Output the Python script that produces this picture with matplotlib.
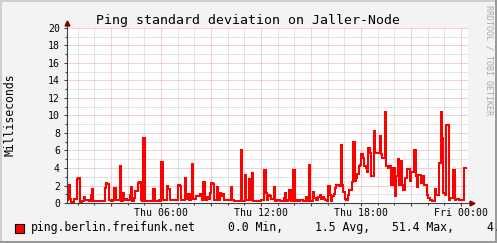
"""Ping standard deviation graph, RRDtool style."""

import matplotlib
matplotlib.use("Agg")
import matplotlib.pyplot as plt
import numpy as np
from matplotlib.lines import Line2D
from matplotlib.patches import Rectangle

W, H, DPI = 497, 243, 100
MONO = "DejaVu Sans Mono"

title = "Ping standard deviation on Jaller-Node"
ylabel = "Milliseconds"
series_name = "ping.berlin.freifunk.net"
watermark = "RRDTOOL / TOBI OETIKER"

# 5 minute samples, time in hours since Thu 00:00
start_hour = 0.36
step_hours = 5 / 60
stddev_ms = [
    0.3, 2.05, 0.5, 0.1, 0.1, 0.45, 0.45, 2.7, 2.85, 0.1, 0.1, 0.2,
    0.65, 0.3, 0.35, 0.35, 0.25, 0.9, 1.55, 0.2, 0.2, 0.2, 0.2, 0.25,
    0.25, 0.25, 0.25, 1.75, 2.25, 2.2, 0.3, 0.3, 0.2, 0.3, 1.7, 0.3,
    0.3, 0.3, 4.25, 0.25, 1.15, 0.3, 0.45, 0.35, 0.3, 0.9, 1.8, 0.2,
    0.6, 1.4, 1.4, 2.3, 2.4, 0.3, 0.25, 7.45, 0.2, 0.2, 0.2, 0.2,
    0.2, 0.2, 1.6, 0.2, 0.2, 0.2, 0.3, 0.2, 4.7, 0.3, 0.3, 0.4,
    2.0, 1.6, 0.3, 0.3, 0.4, 0.3, 0.3, 0.3, 2.05, 2.0, 0.3, 0.4,
    0.3, 2.85, 0.5, 1.0, 0.4, 1.0, 4.5, 0.5, 0.5, 0.75, 0.75, 0.75,
    1.0, 0.3, 2.4, 0.3, 0.3, 0.7, 0.5, 1.2, 2.3, 2.15, 0.4, 0.3,
    1.8, 0.3, 1.1, 0.8, 1.0, 0.4, 0.3, 0.3, 0.3, 0.3, 1.8, 0.3,
    0.2, 0.2, 0.2, 0.2, 0.2, 6.0, 0.2, 0.2, 3.25, 0.3, 0.3, 2.7,
    0.3, 3.4, 0.2, 0.2, 0.2, 0.2, 0.2, 0.2, 0.3, 0.3, 3.8, 1.15,
    0.3, 0.9, 0.8, 0.45, 0.5, 1.8, 0.2, 0.35, 0.35, 0.2, 0.2, 0.2,
    0.6, 1.2, 0.2, 0.3, 1.45, 0.2, 0.2, 3.8, 0.2, 0.3, 0.2, 0.2,
    0.3, 0.3, 0.2, 0.2, 0.7, 0.2, 4.35, 0.2, 0.2, 1.3, 0.55, 0.3,
    0.3, 0.7, 0.9, 0.5, 0.65, 0.45, 0.3, 0.25, 2.0, 0.95, 0.25, 0.75,
    1.0, 1.7, 2.1, 2.1, 2.0, 6.65, 2.1, 1.3, 0.45, 0.4, 0.95, 1.5,
    1.45, 2.35, 7.0, 2.55, 2.85, 3.3, 4.2, 4.35, 5.65, 5.1, 4.2, 4.0,
    3.6, 6.3, 5.7, 3.1, 3.1, 8.25, 5.7, 5.7, 5.7, 7.7, 5.6, 5.1,
    5.1, 10.4, 4.2, 4.0, 4.2, 2.1, 2.1, 4.0, 0.8, 3.05, 5.05, 2.1,
    4.85, 2.1, 1.5, 2.9, 2.9, 3.9, 3.9, 2.5, 3.6, 3.6, 6.0, 3.05,
    1.8, 3.25, 3.25, 2.3, 3.05, 2.1, 2.1, 0.9, 0.55, 0.4, 0.4, 0.25,
    0.25, 1.6, 0.95, 0.95, 4.55, 10.4, 7.4, 1.15, 0.95, 8.95, 8.95, 0.3,
    0.55, 0.55, 3.8, 0.4, 0.45, 0.45, 0.3, 0.3, 0.4, 0.4, 4.0, 4.0,
]

tick_hours = [6, 12, 18, 24]
tick_labels = ["Thu 06:00", "Thu 12:00", "Thu 18:00", "Fri 00:00"]
y_ticks = list(range(0, 21, 2))
legend_stats = ["0.0 Min,", "1.5 Avg,", "51.4 Max,", "4.0 Last"]

# layout (pixels)
PLOT_L, PLOT_R, PLOT_T, PLOT_B = 67, 468, 28, 203
PX_PER_HOUR = 100 / 6
stat_x = [228.3, 315, 391.7, 486.7]

BACK = "#f3f3f3"
MINOR = "#c8c8c8"
MAJOR = "#eea0a0"
AXIS = "#404040"
ARROW = "#7f0000"


def fx(px):
    return px / W


def fy(py):
    return 1 - py / H


fig = plt.figure(figsize=(W / DPI, H / DPI), dpi=DPI, facecolor=BACK)
ax = fig.add_axes([fx(PLOT_L), fy(PLOT_B), (PLOT_R - PLOT_L) / W, (PLOT_B - PLOT_T) / H])
ax.set_facecolor("white")

x0 = start_hour
x1 = start_hour + (PLOT_R - PLOT_L) / PX_PER_HOUR
ax.set_xlim(x0, x1)
ax.set_ylim(0, 20)

dot = (0, (1, 1))
for h in range(1, 25):
    ax.axvline(h, color=MAJOR if h % 3 == 0 else MINOR, lw=0.72, ls=dot, zorder=1)
for v in range(1, 21):
    ax.axhline(v, color=MAJOR if v % 2 == 0 else MINOR, lw=0.72, ls=dot, zorder=1)

vals = np.array(stddev_ms)
edges = start_hour + np.arange(len(vals) + 1) * step_hours
ax.stairs(vals, edges, baseline=None, color="#ff0000", lw=1.45, zorder=3)

for s in ["top", "right", "left", "bottom"]:
    ax.spines[s].set_visible(False)

# axes with arrows
ax.add_line(Line2D([0, 0], [0, 1 + 3 / 175], transform=ax.transAxes, color=AXIS,
                   lw=0.8, clip_on=False, zorder=4))
ax.add_line(Line2D([0, 1 + 2 / 401], [0, 0], transform=ax.transAxes, color=AXIS,
                   lw=0.8, clip_on=False, zorder=4))
ax.plot([0], [1 + 5 / 175], marker="^", ms=3.5, color=ARROW, transform=ax.transAxes,
        clip_on=False, zorder=5)
ax.plot([1 + 4 / 401], [0], marker=">", ms=3.5, color=ARROW, transform=ax.transAxes,
        clip_on=False, zorder=5)

major_x = list(range(3, 25, 3))
ax.set_xticks(major_x)
ax.set_xticklabels([tick_labels[tick_hours.index(h)] if h in tick_hours else "" for h in major_x])
ax.set_xticks(range(1, 25), minor=True)
ax.set_yticks(y_ticks)
ax.set_yticks(range(0, 21), minor=True)
ax.tick_params(axis="both", which="both", color=AXIS, width=0.8, direction="out")
ax.tick_params(axis="both", which="major", length=2.2, labelsize=7.1, labelcolor="black")
ax.tick_params(axis="both", which="minor", length=1.4)
ax.tick_params(axis="x", which="major", pad=1.6)
ax.tick_params(axis="y", which="major", pad=2.8)
for lab in ax.get_xticklabels() + ax.get_yticklabels():
    lab.set_family(MONO)

fig.text(fx(248.5), fy(24), title, ha="center", va="baseline", fontsize=9.5, family=MONO)
fig.text(fx(10), fy(115), ylabel, ha="center", va="center", rotation=90, fontsize=8.3,
         family=MONO)
fig.text(fx(488.5), fy(5), watermark, ha="center", va="top", rotation=270, fontsize=6,
         family=MONO, color="#a8a8a8")

# legend
fig.add_artist(Rectangle((fx(15), fy(233)), 9 / W, 9 / H, transform=fig.transFigure,
                         facecolor="#ff0000", edgecolor="black", lw=0.8))
fig.text(fx(30.7), fy(231), series_name, ha="left", va="baseline", fontsize=8.3, family=MONO)
for x, s in zip(stat_x, legend_stats):
    fig.text(fx(x), fy(231), s, ha="left", va="baseline", fontsize=8.3, family=MONO)

# 3d-ish frame
fig.add_artist(Rectangle((0, 1 - 2 / H), 1, 2 / H, transform=fig.transFigure,
                         facecolor="#cfcfcf", edgecolor="none"))
fig.add_artist(Rectangle((0, 0), 2 / W, 1, transform=fig.transFigure,
                         facecolor="#cfcfcf", edgecolor="none"))
fig.add_artist(Rectangle((0, 0), 1, 2 / H, transform=fig.transFigure,
                         facecolor="#9a9a9a", edgecolor="none"))
fig.add_artist(Rectangle((1 - 2 / W, 0), 2 / W, 1, transform=fig.transFigure,
                         facecolor="#9a9a9a", edgecolor="none"))

fig.savefig("out.png", dpi=DPI, facecolor=BACK)
